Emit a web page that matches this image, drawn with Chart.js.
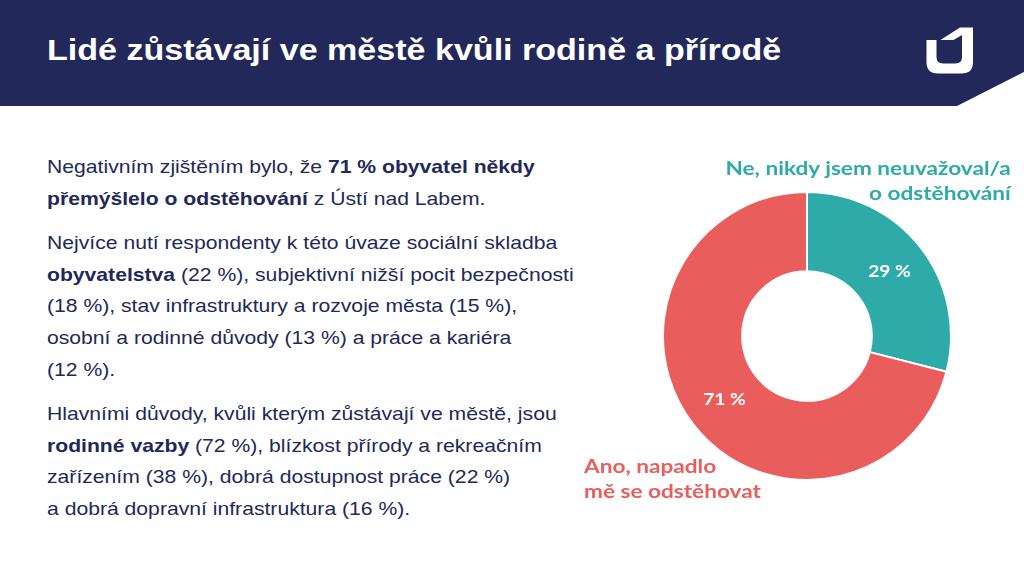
<!DOCTYPE html>
<html lang="cs">
<head>
<meta charset="utf-8">
<script src="https://cdn.jsdelivr.net/npm/chart.js@4.4.1/dist/chart.umd.min.js"></script>
<style>
  html, body { margin:0; padding:0; }
  body { width:1024px; height:576px; position:relative; overflow:hidden; background:#ffffff; font-family:"Liberation Sans", Arial, sans-serif; }
  #hdr { position:absolute; left:0; top:0; }
  #title { position:absolute; left:47px; top:31px; font:bold 30px "Liberation Sans", Arial, sans-serif; color:#ffffff; line-height:38px; white-space:nowrap; transform:scaleX(1.135); transform-origin:0 0; }
  .p { position:absolute; left:47px; font-size:19px; line-height:31.7px; color:#22285a; white-space:nowrap; transform:scaleX(1.113); transform-origin:0 0; }
  .p b { font-weight:bold; }
  #chartBox { position:absolute; left:662px; top:191px; width:290px; height:290px; }
  .lbl { position:absolute; font:bold 19px Lato, "Noto Sans", sans-serif; line-height:25px; white-space:nowrap; transform:scaleX(1.19); }
  #lblNe { right:13px; top:155px; text-align:right; color:#2eaaa9; transform-origin:100% 0; }
  #lblAno { left:584px; top:453px; text-align:left; color:#e95e5d; transform-origin:0 0; }
</style>
</head>
<body>
<svg id="hdr" width="1024" height="110" viewBox="0 0 1024 110">
  <polygon points="0,0 1024,0 1024,72 957,106 0,106" fill="#22285a"/>
  <path d="M926.5,40 L936.5,40 L936.5,57 Q936.5,63.5 943,63.5 L955.5,63.5 Q962,63.5 962,57 L962,40 L973,40 L973,62 Q973,73.5 961.5,73.5 L938,73.5 Q926.5,73.5 926.5,62 Z" fill="#ffffff"/>
  <polygon points="940.5,40 960,27.5 973,27.5 973,40 962,40 962,35 953.5,40" fill="#ffffff"/>
</svg>
<div id="title">Lidé zůstávají ve městě kvůli rodině a přírodě</div>

<div class="p" style="top:151px">Negativním zjištěním bylo, že <b>71 % obyvatel někdy</b><br><b>přemýšlelo o odstěhování</b> z Ústí nad Labem.</div>
<div class="p" style="top:227px">Nejvíce nutí respondenty k této úvaze sociální skladba<br><b>obyvatelstva</b> (22 %), subjektivní nižší pocit bezpečnosti<br>(18 %), stav infrastruktury a rozvoje města (15 %),<br>osobní a rodinné důvody (13 %) a práce a kariéra<br>(12 %).</div>
<div class="p" style="top:398px">Hlavními důvody, kvůli kterým zůstávají ve městě, jsou<br><b>rodinné vazby</b> (72 %), blízkost přírody a rekreačním<br>zařízením (38 %), dobrá dostupnost práce (22 %)<br>a dobrá dopravní infrastruktura (16 %).</div>

<div id="chartBox"><canvas id="c" width="290" height="290"></canvas></div>
<div class="lbl" id="lblNe">Ne, nikdy jsem neuvažoval/a<br>o odstěhování</div>
<div class="lbl" id="lblAno">Ano, napadlo<br>mě se odstěhovat</div>

<script>
const categories = ["Ne, nikdy jsem neuvažoval/a o odstěhování", "Ano, napadlo mě se odstěhovat"];
const values = [29, 71];
const valueLabels = ["29 %", "71 %"];
const colors = ["#2eaaa9", "#e95e5d"];

const innerLabels = {
  id: 'innerLabels',
  afterDatasetsDraw(chart) {
    const ctx = chart.ctx;
    const meta = chart.getDatasetMeta(0);
    ctx.fillStyle = '#ffffff';
    ctx.font = 'bold 17px Lato, "Noto Sans", sans-serif';
    ctx.textAlign = 'center';
    ctx.textBaseline = 'middle';
    meta.data.forEach((arc, i) => {
      const p = arc.tooltipPosition();
      ctx.save();
      ctx.translate(p.x, p.y);
      ctx.scale(1.13, 1);
      ctx.fillText(valueLabels[i], 0, 0);
      ctx.restore();
    });
  }
};

new Chart(document.getElementById('c'), {
  type: 'doughnut',
  data: {
    labels: categories,
    datasets: [{
      data: values,
      backgroundColor: colors,
      borderColor: '#ffffff',
      borderWidth: 2,
      hoverOffset: 0
    }]
  },
  options: {
    responsive: false,
    animation: false,
    cutout: '45%',
    layout: { padding: 0 },
    plugins: { legend: { display: false }, tooltip: { enabled: false } }
  },
  plugins: [innerLabels]
});
</script>
</body>
</html>
